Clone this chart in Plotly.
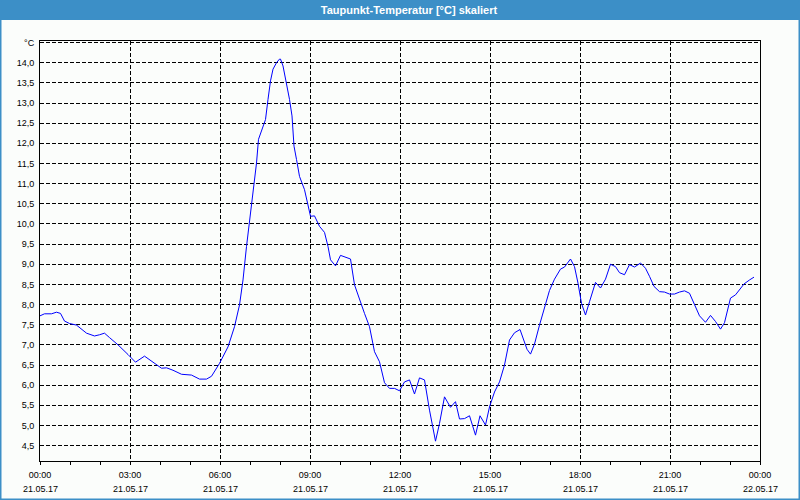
import pandas as pd
import plotly.graph_objects as go

# Minutes after 21.05.17 00:00 and dew point temperature (°C)
minutes = [0, 9, 23, 33, 41, 49, 59, 73, 93, 109, 119, 129, 139, 156, 176, 191, 209, 226, 243, 253,
           266, 283, 303, 319, 333, 343, 359, 376, 389, 399, 406, 413, 419, 426, 433, 437, 446, 451, 456, 461,
           466, 473, 479, 481, 486, 493, 499, 504, 508, 513, 519, 529, 535, 541, 549, 559, 569, 576, 581, 591,
           601, 613, 621, 629, 639, 649, 659, 669, 679, 689, 699, 709, 719, 729, 739, 749, 759, 769, 779, 791,
           799, 809, 821, 831, 839, 849, 859, 871, 880, 891, 899, 909, 919, 929, 939, 949, 960, 968, 974, 981,
           989, 999, 1009, 1019, 1029, 1041, 1049, 1061, 1069, 1076, 1083, 1091, 1099, 1111, 1121, 1131, 1141, 1151, 1159, 1169,
           1179, 1189, 1201, 1211, 1219, 1228, 1239, 1249, 1259, 1269, 1279, 1289, 1299, 1309, 1319, 1331, 1341, 1351, 1361, 1369,
           1381, 1391, 1399, 1408, 1419, 1428]
dewpoint = [7.72, 7.77, 7.77, 7.81, 7.78, 7.59, 7.53, 7.49, 7.29, 7.22, 7.25, 7.29, 7.18, 7.00, 6.76, 6.57, 6.72, 6.56, 6.42, 6.43,
            6.37, 6.27, 6.25, 6.15, 6.15, 6.22, 6.54, 6.95, 7.45, 7.99, 8.61, 9.44, 10.06, 10.93, 11.51, 12.10, 12.43, 12.59, 13.09, 13.55,
            13.84, 14.00, 14.09, 14.09, 13.92, 13.50, 13.09, 12.68, 11.93, 11.60, 11.18, 10.85, 10.52, 10.19, 10.20, 9.94, 9.79, 9.44, 9.11, 8.96,
            9.22, 9.17, 9.13, 8.49, 8.12, 7.78, 7.45, 6.83, 6.58, 6.06, 5.92, 5.92, 5.86, 6.08, 6.13, 5.78, 6.18, 6.13, 5.38, 4.61,
            5.05, 5.71, 5.45, 5.59, 5.16, 5.17, 5.24, 4.76, 5.24, 5.01, 5.46, 5.83, 6.08, 6.50, 7.12, 7.30, 7.38, 7.12, 6.89, 6.77,
            7.02, 7.49, 7.95, 8.35, 8.63, 8.88, 8.93, 9.13, 8.94, 8.53, 8.03, 7.74, 8.07, 8.55, 8.41, 8.63, 9.00, 8.94, 8.79, 8.74,
            8.99, 8.93, 9.03, 8.90, 8.70, 8.45, 8.32, 8.31, 8.26, 8.26, 8.31, 8.34, 8.28, 7.99, 7.72, 7.56, 7.73, 7.58, 7.39, 7.55,
            8.16, 8.24, 8.36, 8.51, 8.61, 8.68]

x_tick_times = ["00:00", "03:00", "06:00", "09:00", "12:00", "15:00", "18:00", "21:00", "00:00"]
x_tick_dates = ["21.05.17", "21.05.17", "21.05.17", "21.05.17", "21.05.17", "21.05.17", "21.05.17", "21.05.17", "22.05.17"]
y_tick_values = [4.5, 5.0, 5.5, 6.0, 6.5, 7.0, 7.5, 8.0, 8.5, 9.0, 9.5, 10.0, 10.5, 11.0, 11.5, 12.0, 12.5, 13.0, 13.5, 14.0, 14.5]
y_unit = "°C"
title_text = "Taupunkt-Temperatur [°C] skaliert"

start = pd.Timestamp("2017-05-21 00:00")
times = [start + pd.Timedelta(minutes=m) for m in minutes]
x_tick_vals = [start + pd.Timedelta(hours=3 * i) for i in range(len(x_tick_times))]
y_tick_text = [f"{v:.1f}".replace(".", ",") for v in y_tick_values[:-1]] + [y_unit]

BG = "#fbfdfb"
BLUE_BAR = "#3c8fc7"
FONT = "Liberation Sans"
TXT = "#000000"

fig = go.Figure()
fig.add_trace(go.Scatter(x=times, y=dewpoint, mode="lines",
                         line=dict(color="#0000ff", width=1), hoverinfo="skip"))

L, R, T, B = 40, 40, 41, 39
W, H = 800, 500
pw, ph = W - L - R, H - T - B

def px_x(x):
    return (x - L) / pw

def px_y(y):
    return (H - B - y) / ph

annotations = [
    dict(x=xv, y=px_y(488.5), xref="x", yref="paper", text=d, showarrow=False,
         xanchor="center", yanchor="middle", font=dict(family=FONT, size=9, color=TXT))
    for xv, d in zip(x_tick_vals, x_tick_dates)
]

fig.update_layout(
    width=W, height=H,
    margin=dict(l=L, r=R, t=T, b=B, pad=0),
    paper_bgcolor=BG, plot_bgcolor=BG,
    showlegend=False,
    font=dict(family=FONT, size=9, color=TXT),
    title=dict(text=title_text, x=409 / W, xanchor="center", xref="container",
               y=1 - 10 / H, yanchor="middle", yref="container",
               font=dict(family=FONT, size=11, color="white", weight="bold")),
    annotations=annotations,
    shapes=[
        dict(type="rect", xref="paper", yref="paper",
             x0=px_x(-5), x1=px_x(W + 5), y0=px_y(20), y1=px_y(-5),
             fillcolor=BLUE_BAR, line=dict(width=0), layer="below"),
        dict(type="rect", xref="paper", yref="paper",
             x0=px_x(0.5), x1=px_x(W - 0.5), y0=px_y(H - 0.5), y1=px_y(0.5),
             fillcolor="rgba(0,0,0,0)", line=dict(color=BLUE_BAR, width=2), layer="above"),
    ],
)

fig.update_xaxes(
    type="date",
    range=[start, start + pd.Timedelta(hours=24)],
    tickmode="array", tickvals=x_tick_vals, ticktext=x_tick_times,
    ticks="outside", ticklen=3, tickcolor="black", tickwidth=1,
    ticklabelstandoff=2,
    minor=dict(tickmode="linear", tick0=start, dtick=3600000, ticks="outside",
               ticklen=3, tickcolor="black", tickwidth=1, showgrid=False),
    showgrid=True, gridcolor="black", gridwidth=1, griddash="4px,2px",
    showline=True, linecolor="black", linewidth=1, mirror=True,
    zeroline=False, tickfont=dict(family=FONT, size=9, color=TXT),
)
fig.update_yaxes(
    range=[4.118, 14.539],
    tickmode="array", tickvals=y_tick_values, ticktext=y_tick_text,
    ticks="", ticklabelstandoff=3,
    showgrid=True, gridcolor="black", gridwidth=1, griddash="4px,2px",
    showline=True, linecolor="black", linewidth=1, mirror=True,
    zeroline=False, tickfont=dict(family=FONT, size=9, color=TXT),
)

fig.write_html("out.html")
